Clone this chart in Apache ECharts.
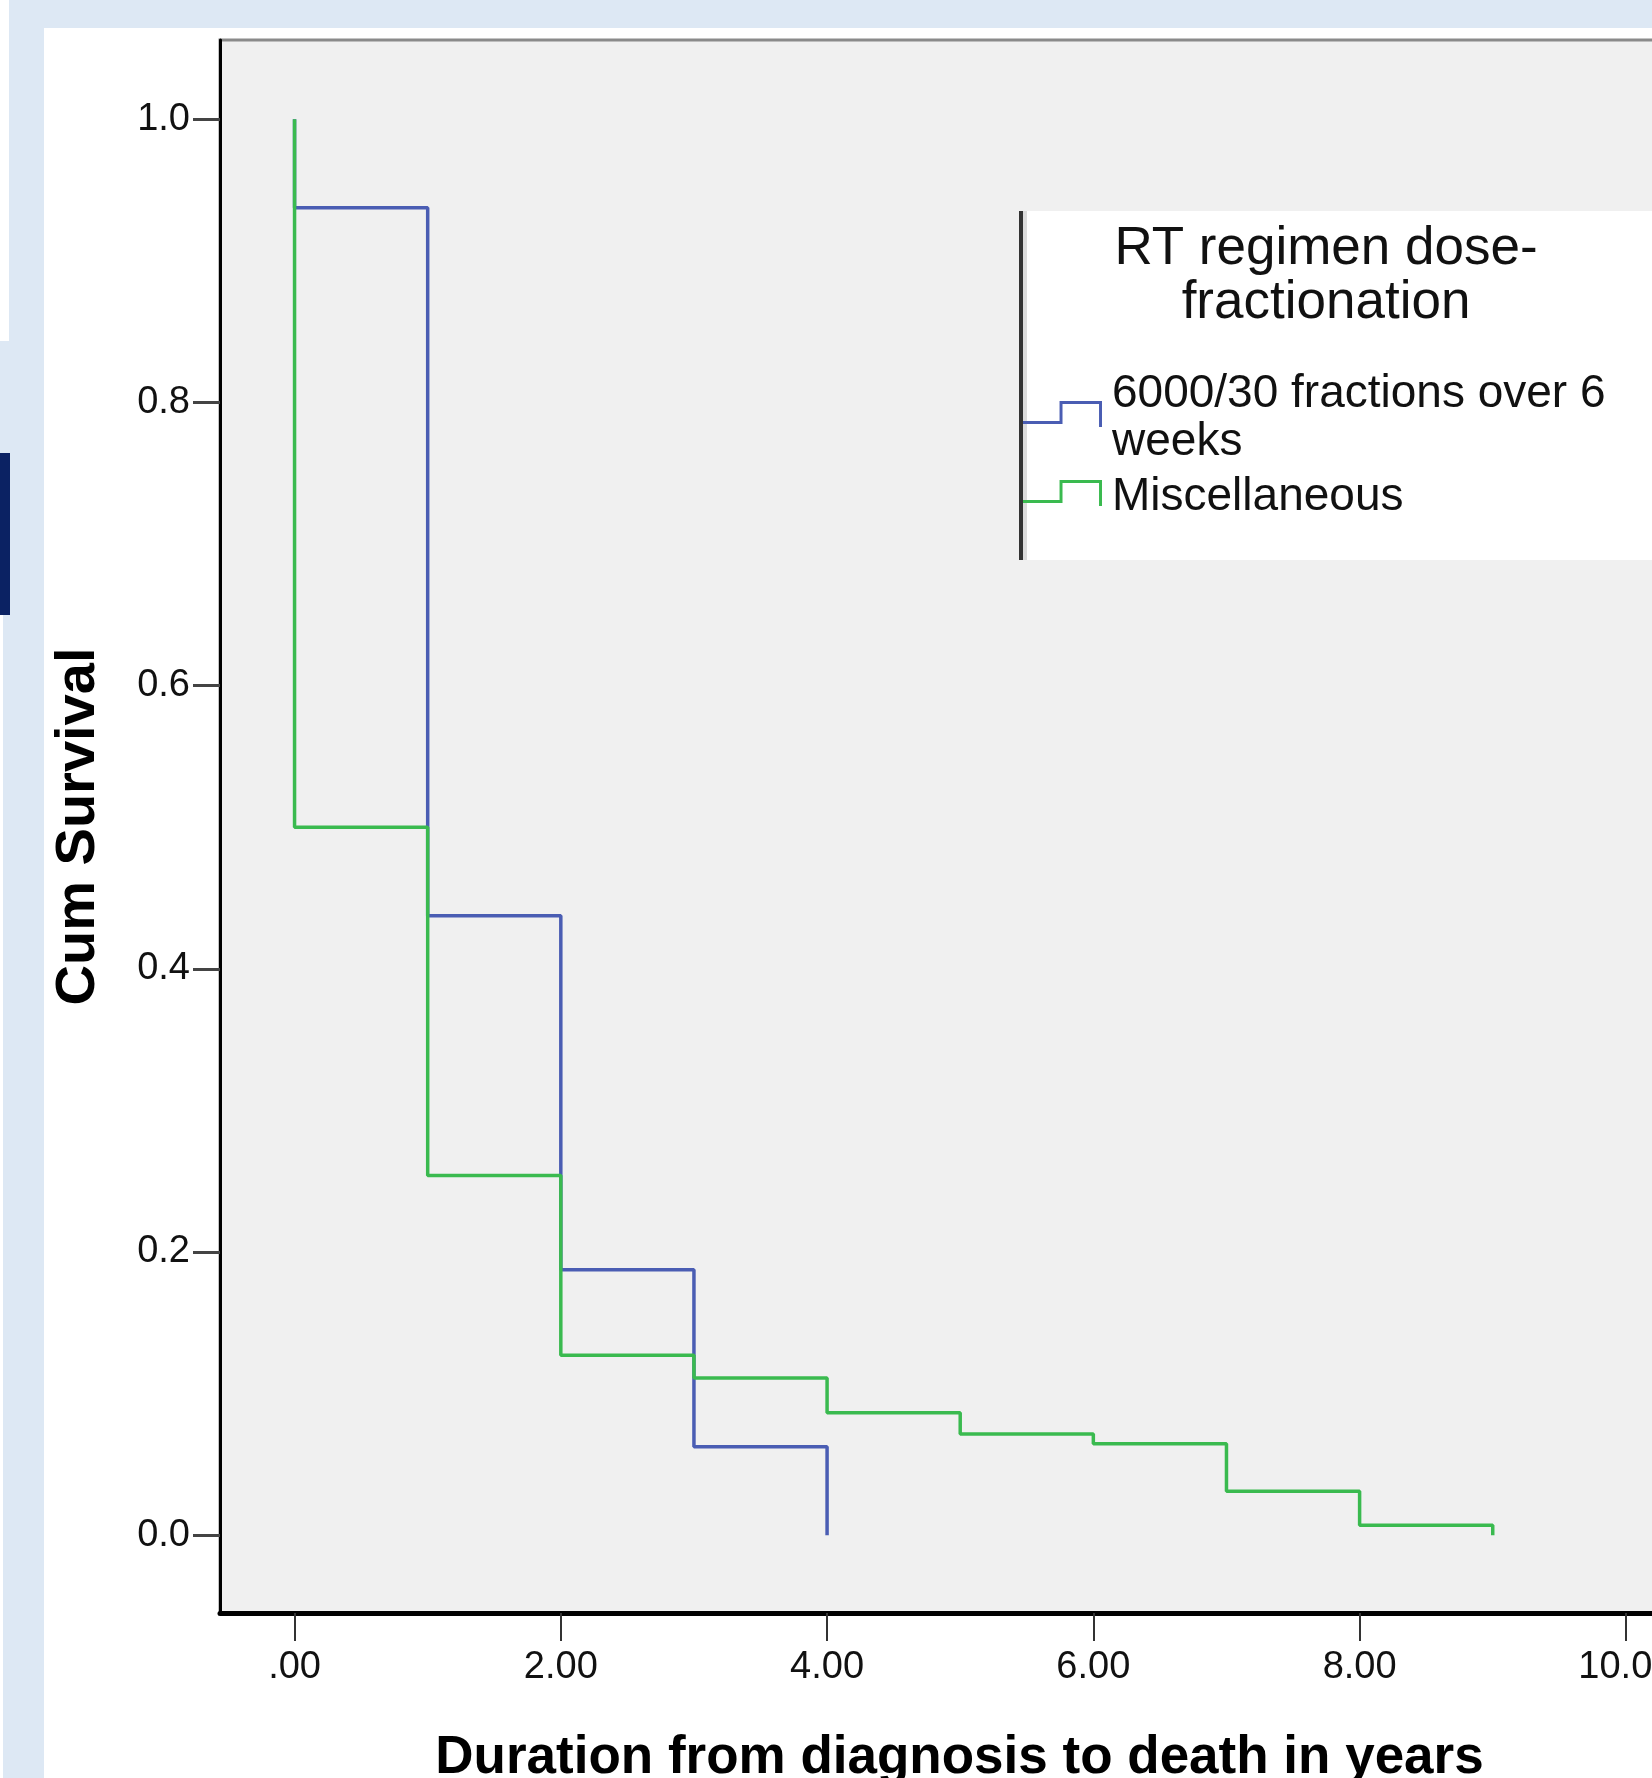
<!DOCTYPE html>
<html>
<head>
<meta charset="utf-8">
<script src="https://cdn.jsdelivr.net/npm/echarts@6/dist/echarts.min.js"></script>
<style>
  html, body { margin: 0; padding: 0; background: #dde8f4; }
  #wrap { position: relative; width: 1652px; height: 1778px; overflow: hidden; }
  .panel { position: absolute; left: 44px; top: 28px; right: 0; bottom: 0; background: #fff; }
  .strip-top { position: absolute; left: 0; top: 0; width: 9px; height: 341px; background: #fff; }
  .strip-navy { position: absolute; left: 0; top: 453px; width: 10px; height: 162px; background: #0b2263; }
  .strip-bot { position: absolute; left: 0; top: 615px; width: 3px; bottom: 0; background: #fff; }
  #chart { position: absolute; left: 0; top: 0; width: 1652px; height: 1778px; }
</style>
</head>
<body>
<div id="wrap">
  <div class="panel"></div>
  <div class="strip-top"></div>
  <div class="strip-navy"></div>
  <div class="strip-bot"></div>
  <div id="chart"></div>
</div>
<script>
// Kaplan-Meier steps (time in years, cumulative survival)
const seriesNames = ['6000/30 fractions over 6 weeks', 'Miscellaneous'];
const blueTimes = [0, 0, 1, 2, 3, 4];
const blueSurv = [1, 0.9375, 0.4375, 0.1875, 0.0625, 0];
const greenTimes = [0, 0, 1, 2, 3, 4, 5, 6, 7, 8, 9];
const greenSurv = [1, 0.5, 0.254, 0.127, 0.111, 0.0865, 0.0714, 0.0645, 0.031, 0.007, 0];
const xTicks = [0, 2, 4, 6, 8, 10];
const yTicks = [0, 0.2, 0.4, 0.6, 0.8, 1.0];

const FONT = '"Liberation Sans", Arial, sans-serif';
const BLUE = '#4a5db3';
const GREEN = '#3aba4f';

// step-shaped legend icon; the tiny last bit only stretches the box downward
const stepIcon = 'path://M0,20 L37,20 L37,0 L80,0 L80,26 L77,26 L77,3 L40,3 L40,23 L0,23 Z M0,34 L0.01,34 L0.01,33.99 Z';

const pairs = (xs, ys) => xs.map((x, i) => [x, ys[i]]);

const chart = echarts.init(document.getElementById('chart'), null, { renderer: 'canvas' });

const option = {
  backgroundColor: 'transparent',
  animation: false,
  textStyle: { fontFamily: FONT },
  grid: {
    left: 220, top: 40, bottom: 165, right: -107,
    show: true, backgroundColor: '#f0f0f0',
    borderColor: '#8a8a8a', borderWidth: 3,
    outerBoundsMode: 'none'
  },
  title: {
    text: 'RT regimen dose-\nfractionation',
    left: 1321, top: 217, textAlign: 'center',
    textStyle: { fontFamily: FONT, fontWeight: 'normal', fontSize: 53, lineHeight: 54, color: '#111' },
    z: 12
  },
  legend: {
    orient: 'vertical',
    left: 1023, top: 370, padding: 0,
    itemWidth: 79, itemHeight: 34, itemGap: 7,
    icon: stepIcon,
    symbolKeepAspect: false,
    formatter: name => name === seriesNames[0] ? '6000/30 fractions over 6\nweeks' : name,
    textStyle: { fontFamily: FONT, fontSize: 46, lineHeight: 48, color: '#111', padding: [0, 0, 0, 5] },
    z: 12
  },
  graphic: [
    { type: 'rect', z: 10, shape: { x: 1019, y: 211, width: 700, height: 349 }, style: { fill: '#fff' } },
    { type: 'rect', z: 11, shape: { x: 1023, y: 211, width: 4, height: 349 }, style: { fill: '#dcdcdc' } },
    { type: 'rect', z: 11, shape: { x: 1019, y: 211, width: 4, height: 349 }, style: { fill: '#333' } }
  ],
  xAxis: {
    type: 'value',
    min: -0.56, max: 11,
    name: 'Duration from diagnosis to death in years',
    nameLocation: 'middle', nameGap: 119,
    nameTextStyle: { fontFamily: FONT, fontSize: 53, fontWeight: 'bold', color: '#000', padding: [0, 60, 0, 0] },
    axisLine: { show: true, onZero: false, lineStyle: { color: '#000', width: 5 } },
    axisTick: { show: true, customValues: xTicks, length: 28, lineStyle: { color: '#333', width: 2 } },
    axisLabel: {
      customValues: xTicks, margin: 36,
      fontFamily: FONT, fontSize: 38, color: '#111',
      formatter: v => v === 0 ? '.00' : v.toFixed(2)
    },
    splitLine: { show: false }
  },
  yAxis: {
    type: 'value',
    min: -0.055, max: 1.056,
    name: 'Cum Survival',
    nameLocation: 'middle', nameGap: 113, nameRotate: 90,
    nameTextStyle: { fontFamily: FONT, fontSize: 56, fontWeight: 'bold', color: '#000' },
    axisLine: { show: true, onZero: false, lineStyle: { color: '#000', width: 3 } },
    axisTick: { show: true, customValues: yTicks, length: 27, lineStyle: { color: '#444', width: 3 } },
    axisLabel: {
      customValues: yTicks, margin: 30,
      fontFamily: FONT, fontSize: 38, color: '#111',
      formatter: v => v.toFixed(1)
    },
    splitLine: { show: false }
  },
  series: [
    {
      name: seriesNames[0], type: 'line', step: 'end',
      showSymbol: false, symbol: 'none',
      data: pairs(blueTimes, blueSurv),
      lineStyle: { color: BLUE, width: 3.5 },
      itemStyle: { color: BLUE }
    },
    {
      name: seriesNames[1], type: 'line', step: 'end',
      showSymbol: false, symbol: 'none',
      data: pairs(greenTimes, greenSurv),
      lineStyle: { color: GREEN, width: 3.5 },
      itemStyle: { color: GREEN }
    }
  ]
};

chart.setOption(option);
</script>
</body>
</html>
